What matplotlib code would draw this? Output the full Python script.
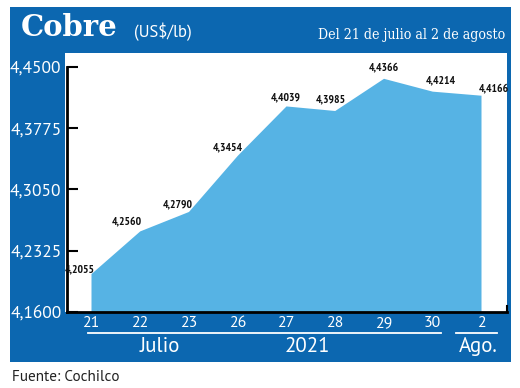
import matplotlib
matplotlib.use("Agg")
import matplotlib.pyplot as plt
from matplotlib.patches import Rectangle
from matplotlib.lines import Line2D

# ---- data ----
days = ["21", "22", "23", "26", "27", "28", "29", "30", "2"]
prices = [4.2055, 4.2560, 4.2790, 4.3454, 4.4039, 4.3985, 4.4366, 4.4214, 4.4166]
price_labels = ["4,2055", "4,2560", "4,2790", "4,3454", "4,4039", "4,3985", "4,4366", "4,4214", "4,4166"]
yticks = [4.1600, 4.2325, 4.3050, 4.3775, 4.4500]
ytick_labels = ["4,1600", "4,2325", "4,3050", "4,3775", "4,4500"]
month_groups = ["Julio", "2021", "Ago."]

# label offsets (points) relative to each data point
label_offsets = [(-8, 3), (-9, 7), (-8, 5), (-7, 6), (0, 6), (-3, 8), (0, 8), (6, 8), (9.5, 5)]

W, H = 520, 388
BLUE = "#0c67b0"
FILL = "#56b3e4"

def fx(px):
    return px / W

def fy(py):
    return 1 - py / H

fig = plt.figure(figsize=(5.2, 3.88), dpi=100)
fig.patch.set_facecolor("white")

# blue frame
fig.patches.append(Rectangle((fx(10), fy(362)), fx(511) - fx(10), fy(7) - fy(362),
                             transform=fig.transFigure, facecolor=BLUE, edgecolor="none", zorder=0))
# white plotting field
fig.patches.append(Rectangle((fx(65), fy(312)), fx(507) - fx(65), fy(53) - fy(312),
                             transform=fig.transFigure, facecolor="white", edgecolor="none", zorder=0.5))

ax = fig.add_axes([fx(67), fy(312), fx(507) - fx(67), fy(53) - fy(312)])
ax.set_zorder(3)
ax.set_facecolor("none")
x = list(range(len(days)))
ax.fill_between(x, prices, yticks[0], color=FILL, linewidth=0, zorder=2)

ax.set_ylim(4.16, 4.45 + 14 * 0.29 / 245.2)
ax.set_xlim(-24 / 48.75, (507 - 91) / 48.75)

for s in ["top", "right"]:
    ax.spines[s].set_visible(False)
ax.spines["left"].set_bounds(yticks[0], yticks[-1])
ax.spines["left"].set_linewidth(2)
ax.spines["bottom"].set_linewidth(2)
ax.spines["left"].set_zorder(5)
ax.spines["bottom"].set_zorder(5)

ax.set_yticks(yticks)
ax.set_yticklabels(ytick_labels)
ax.tick_params(axis="y", direction="in", length=8, width=1.5, color="black",
               labelcolor="white", labelsize=12.5, pad=4)
for t in ax.get_yticklabels():
    t.set_fontfamily(["PT Sans", "DejaVu Sans"])

ax.set_xticks(x)
ax.set_xticklabels(days)
ax.tick_params(axis="x", length=0, labelcolor="white", labelsize=11.5, pad=3)
for t in ax.get_xticklabels():
    t.set_fontfamily(["PT Sans", "DejaVu Sans"])

# small end tick on bottom right
ax.add_line(Line2D([1, 1], [0, 0.025], transform=ax.transAxes, color="black",
                   linewidth=1.5, clip_on=False, zorder=5))

# data labels
for xi, v, lab, (dx, dy) in zip(x, prices, price_labels, label_offsets):
    ax.annotate(lab, (xi, v), xytext=(dx, dy), textcoords="offset points",
                ha="center", va="center", fontsize=8.3, fontweight="bold",
                family=["PT Sans Narrow", "DejaVu Sans"], color="#111111", zorder=6,
                annotation_clip=False)

# group underlines and labels
fig.add_artist(Line2D([fx(88), fx(441)], [fy(333), fy(333)], color="white", linewidth=1.3))
fig.add_artist(Line2D([fx(456), fx(497)], [fy(333), fy(333)], color="white", linewidth=1.3))
fig.text(fx(160), fy(347), month_groups[0], color="white", fontsize=15, ha="center", va="center",
         family=["PT Sans", "DejaVu Sans"])
fig.text(fx(307), fy(347), month_groups[1], color="white", fontsize=15, ha="center", va="center",
         family=["PT Sans", "DejaVu Sans"])
fig.text(fx(478), fy(347), month_groups[2], color="white", fontsize=15, ha="center", va="center",
         family=["PT Sans", "DejaVu Sans"])

# header
fig.text(fx(21), fy(28), "Cobre", color="white", fontsize=21, fontweight="bold", ha="left", va="center",
         family=["DejaVu Serif"])
fig.text(fx(134), fy(32), "(US$/lb)", color="white", fontsize=12, ha="left", va="center",
         family=["PT Sans", "DejaVu Sans"])
fig.text(fx(505), fy(35), "Del 21 de julio al 2 de agosto", color="white", fontsize=10.2, ha="right", va="center",
         family=["DejaVu Serif"], fontstretch="condensed")

# source
fig.text(fx(12), fy(377), "Fuente: Cochilco", color="#222222", fontsize=11, ha="left", va="center",
         family=["PT Sans", "DejaVu Sans"])

fig.savefig("out.png", dpi=100, facecolor="white")
